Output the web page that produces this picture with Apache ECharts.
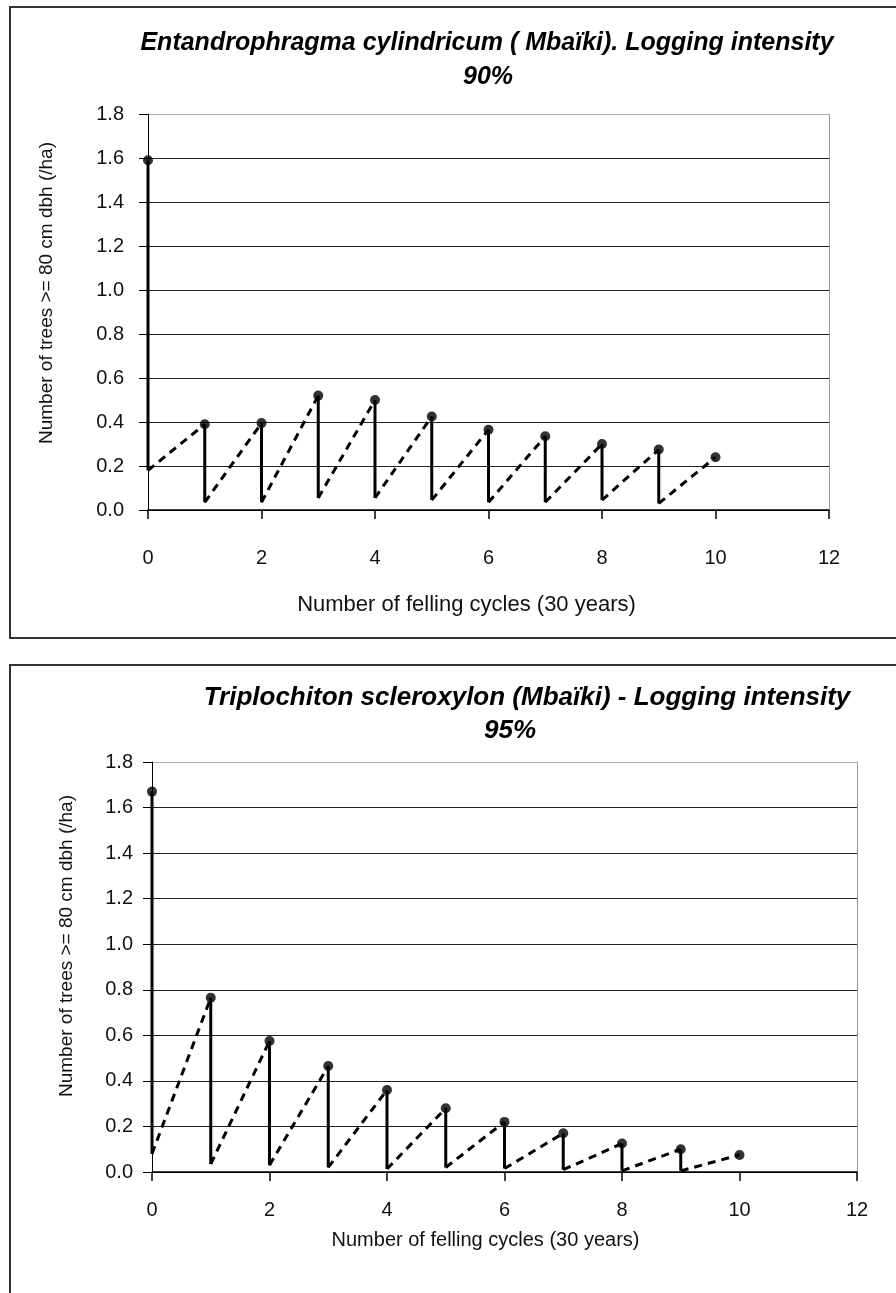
<!DOCTYPE html>
<html lang="en">
<head>
  <meta charset="UTF-8">
  <title>Logging intensity - felling cycles</title>
  <script src="https://cdn.jsdelivr.net/npm/echarts@6/dist/echarts.min.js"></script>
</head>
<style>
  * {
    padding: 0px;
    margin: 0px;
  }
  body {
    width: 896px;
    height: 1293px;
    overflow: hidden;
    background: #fff;
    position: relative;
  }
  .box {
    position: absolute;
    left: 9px;
    width: 1000px;
    border: 2px solid #333;
  }
  #main {
    position: absolute;
    left: 0;
    top: 0;
    width: 896px;
    height: 1293px;
  }
</style>
<body>
<div class="box" style="top:6px;height:629px;"></div>
<div class="box" style="top:664px;height:1000px;"></div>
<div id="main"></div>
</body>
</html>
<script>
  // felling cycles on the x axis
  var cycles = [0, 1, 2, 3, 4, 5, 6, 7, 8, 9, 10];
  var yTicks = ['0.0', '0.2', '0.4', '0.6', '0.8', '1.0', '1.2', '1.4', '1.6', '1.8'];

  // Entandrophragma cylindricum, 90%: stock before felling / left after felling
  var entBefore = [1.59, 0.39, 0.395, 0.52, 0.50, 0.425, 0.365, 0.335, 0.30, 0.275, 0.24];
  var entAfter = [0.18, 0.035, 0.035, 0.055, 0.055, 0.045, 0.035, 0.035, 0.045, 0.03];

  // Triplochiton scleroxylon, 95%
  var triBefore = [1.67, 0.765, 0.575, 0.465, 0.36, 0.28, 0.22, 0.17, 0.125, 0.10, 0.075];
  var triAfter = [0.08, 0.035, 0.03, 0.02, 0.013, 0.02, 0.015, 0.01, 0.005, 0.005];

  var font = 'Liberation Sans, Arial, sans-serif';

  window.onload = function () {
    var myChart = echarts.init(document.getElementById('main'));

    // vertical drops at each felling
    function drops(before, after) {
      var d = [];
      for (var i = 0; i < after.length; i++) {
        d.push([cycles[i], before[i]], [cycles[i], after[i]], [null, null]);
      }
      return d;
    }

    // regrowth between two fellings
    function regrowth(before, after) {
      var d = [];
      for (var i = 0; i < after.length; i++) {
        d.push([cycles[i], after[i]], [cycles[i + 1], before[i + 1]], [null, null]);
      }
      return d;
    }

    function peaks(before) {
      return before.map(function (v, i) {
        return [cycles[i], v];
      });
    }

    function xAxisFor(gridIndex, labelMargin, nameGap, nameSize, shift) {
      return {
        type: 'value',
        gridIndex: gridIndex,
        min: 0,
        max: 12,
        interval: 2,
        name: 'Number of felling cycles (30 years)',
        nameLocation: 'middle',
        nameGap: nameGap,
        nameTextStyle: {
          color: '#111',
          fontFamily: font,
          fontSize: nameSize,
          padding: [0, shift, 0, 0]
        },
        axisLine: {onZero: false, lineStyle: {color: '#000', width: 1.5}},
        axisTick: {show: true, inside: false, length: 9, lineStyle: {color: '#000', width: 1.5}},
        axisLabel: {color: '#111', fontFamily: font, fontSize: 20, margin: labelMargin},
        splitLine: {
          show: true,
          lineStyle: {
            color: ['rgba(0,0,0,0)', 'rgba(0,0,0,0)', 'rgba(0,0,0,0)', 'rgba(0,0,0,0)',
              'rgba(0,0,0,0)', 'rgba(0,0,0,0)', '#999'],
            width: 1
          }
        }
      };
    }

    function yAxisFor(gridIndex, labelMargin, nameGap, shift) {
      return {
        type: 'value',
        gridIndex: gridIndex,
        min: 0,
        max: 1.8,
        interval: 0.2,
        name: 'Number of trees >= 80 cm dbh (/ha)',
        nameLocation: 'middle',
        nameGap: nameGap,
        nameTextStyle: {
          color: '#111',
          fontFamily: font,
          fontSize: 19,
          padding: [0, 0, 0, shift]
        },
        axisLine: {show: true, lineStyle: {color: '#000', width: 1}},
        axisTick: {show: true, inside: false, length: 9, lineStyle: {color: '#000', width: 1}},
        axisLabel: {
          color: '#111',
          fontFamily: font,
          fontSize: 20,
          margin: labelMargin,
          formatter: function (v) {
            return yTicks[Math.round(v / 0.2)];
          }
        },
        splitLine: {
          show: true,
          lineStyle: {
            color: ['#000', '#222', '#222', '#222', '#222', '#222', '#222', '#222', '#222', '#aaa'],
            width: 1.2
          }
        }
      };
    }

    function seriesFor(idx, before, after) {
      return [
        {
          name: 'felling',
          type: 'line',
          xAxisIndex: idx,
          yAxisIndex: idx,
          data: drops(before, after),
          symbol: 'none',
          connectNulls: false,
          lineStyle: {color: '#000', width: 3},
          z: 3
        },
        {
          name: 'regrowth',
          type: 'line',
          xAxisIndex: idx,
          yAxisIndex: idx,
          data: regrowth(before, after),
          symbol: 'none',
          connectNulls: false,
          lineStyle: {color: '#000', width: 3, type: [8, 6]},
          z: 3
        },
        {
          name: 'before felling',
          type: 'scatter',
          xAxisIndex: idx,
          yAxisIndex: idx,
          data: peaks(before),
          symbol: 'circle',
          symbolSize: 10,
          itemStyle: {color: '#000'},
          z: 4
        }
      ];
    }

    var titleStyle = {
      color: '#000',
      fontFamily: font,
      fontWeight: 'bold',
      fontStyle: 'italic'
    };

    myChart.setOption({
      backgroundColor: 'transparent',
      animation: false,
      title: [
        {text: 'Entandrophragma cylindricum ( Mbaïki). Logging intensity', left: 487, top: 43,
          textAlign: 'center', textVerticalAlign: 'middle', padding: 0,
          textStyle: Object.assign({fontSize: 25}, titleStyle)},
        {text: '90%', left: 488, top: 77, textAlign: 'center', textVerticalAlign: 'middle', padding: 0,
          textStyle: Object.assign({fontSize: 25}, titleStyle)},
        {text: 'Triplochiton scleroxylon (Mbaïki) - Logging intensity', left: 527, top: 698,
          textAlign: 'center', textVerticalAlign: 'middle', padding: 0,
          textStyle: Object.assign({fontSize: 26}, titleStyle)},
        {text: '95%', left: 510, top: 731, textAlign: 'center', textVerticalAlign: 'middle', padding: 0,
          textStyle: Object.assign({fontSize: 26}, titleStyle)}
      ],
      grid: [
        {left: 148, right: 67, top: 114, height: 396},
        {left: 152, right: 39, top: 762, height: 410}
      ],
      xAxis: [
        xAxisFor(0, 38, 84, 22, 44),
        xAxisFor(1, 28, 58, 20, 38)
      ],
      yAxis: [
        yAxisFor(0, 24, 92, 38),
        yAxisFor(1, 19, 76, 42)
      ],
      series: seriesFor(0, entBefore, entAfter).concat(seriesFor(1, triBefore, triAfter))
    });
  };
</script>
